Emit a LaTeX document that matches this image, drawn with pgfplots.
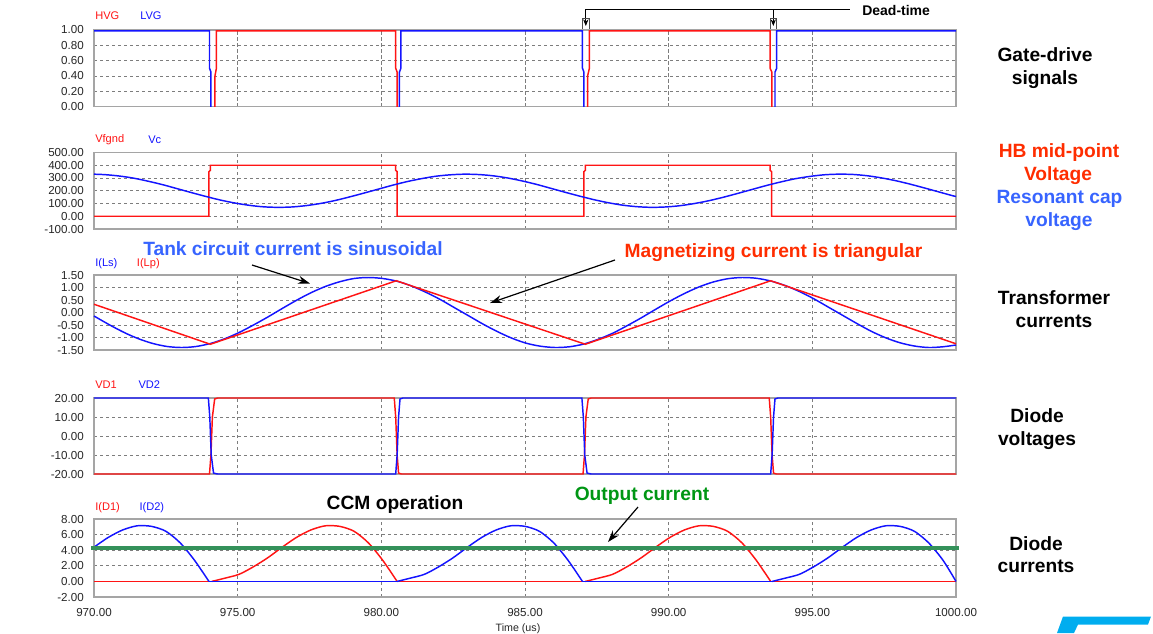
\documentclass[border=0pt]{standalone}
\usepackage{fontspec}
\setmainfont{Liberation Sans}
\usepackage{pgfplots}
\pgfplotsset{compat=1.18}
\usetikzlibrary{arrows.meta}

\definecolor{trred}{RGB}{255,20,20}
\definecolor{trblue}{RGB}{20,20,255}
\definecolor{outgreen}{RGB}{52,145,90}
\definecolor{lblred}{RGB}{255,45,0}
\definecolor{lblblue}{RGB}{55,100,255}
\definecolor{lblgreen}{RGB}{0,150,20}
\definecolor{framegray}{RGB}{165,165,165}
\definecolor{gridgray}{RGB}{125,125,125}

\pgfplotsset{
  panel/.style={
    scale only axis,
    width=646.5pt,
    xmin=970, xmax=1000,
    xtick={970,975,...,1000},
    grid=major,
    major grid style={gridgray, line width=0.6pt, dash pattern=on 2.5pt off 2pt},
    axis line style={framegray, line width=1.1pt},
    major tick length=0pt,
    tick style={draw=none},
    clip=false,
    ticklabel style={font=\fontsize{8.7}{10}\selectfont, text=black!85},
    yticklabel style={anchor=east, inner sep=0pt, xshift=-7.5pt},
    xticklabel style={anchor=north, inner sep=0pt, yshift=-8.5pt},
    /pgf/number format/fixed,
    /pgf/number format/fixed zerofill,
    /pgf/number format/precision=2,
    /pgf/number format/1000 sep={},
    /pgf/number format/assume math mode=true,
  },
  nox/.style={xticklabels={}},
  tr/.style={line width=1.1pt, #1},
  hump/.style={line width=1.1pt, #1, smooth, tension=0.45},
}

\begin{document}
\begin{tikzpicture}
\path[use as bounding box] (0pt,0pt) rectangle (864.75pt,-474.75pt);

% gate-drive signals (low level sits under the frame)
\begin{axis}[panel, nox, clip=true, at={(70.5pt,-79.875pt)}, anchor=south west, height=57.375pt,
  ymin=0, ymax=1, ytick={0,0.2,0.4,0.6,0.8,1}]
\addplot[tr=trred] coordinates {(970,-0.02)(974.21,-0.02)(974.21,0.4)(974.26,0.5)(974.26,0.99)(980.5,0.99)(980.5,0.5)(980.55,0.45)(980.55,-0.02)(987.18,-0.02)(987.18,0.4)(987.24,0.5)(987.24,0.99)(993.53,0.99)(993.53,0.5)(993.59,0.45)(993.59,-0.02)(1000,-0.02)};
\addplot[tr=trblue] coordinates {(970,0.99)(974.02,0.99)(974.02,0.5)(974.07,0.45)(974.07,-0.02)(980.63,-0.02)(980.63,0.45)(980.68,0.5)(980.68,0.99)(987.0,0.99)(987.0,0.5)(987.05,0.45)(987.05,-0.02)(993.7,-0.02)(993.7,0.45)(993.76,0.5)(993.76,0.99)(1000,0.99)};
\end{axis}

% mid-point and resonant cap voltage
\begin{axis}[panel, nox, at={(70.5pt,-171.75pt)}, anchor=south west, height=57.375pt,
  ymin=-100, ymax=500, ytick={-100,0,100,200,300,400,500}]
\addplot[tr=trred] coordinates {(970,0)(974.0,0)(974.0,350)(974.05,360)(974.05,400)(980.5,400)(980.5,360)(980.55,350)(980.55,0)(987.05,0)(987.05,350)(987.1,360)(987.1,400)(993.53,400)(993.53,360)(993.58,350)(993.58,0)(1000,0)};
\addplot[tr=trblue, smooth] coordinates {(970,330)(970.4,326)(970.9,315)(971.4,298)(971.9,274)(972.4,247)(972.9,216)(973.4,185)(973.9,155)(974.4,127)(974.9,104)(975.4,86)(975.9,74)(976.4,70)(976.9,73)(977.4,84)(977.9,101)(978.4,124)(978.9,152)(979.4,182)(979.9,213)(980.4,244)(980.9,272)(981.4,295)(981.9,314)(982.4,325)(982.9,330)(983.4,327)(983.9,317)(984.4,300)(984.9,277)(985.4,250)(985.9,219)(986.4,188)(986.9,158)(987.4,130)(987.9,106)(988.4,87)(988.9,75)(989.4,70)(989.9,73)(990.4,83)(990.9,100)(991.4,122)(991.9,149)(992.4,179)(992.9,210)(993.4,241)(993.9,269)(994.4,294)(994.9,312)(995.4,325)(995.9,330)(996.4,328)(996.9,318)(997.4,301)(997.9,279)(998.4,252)(998.9,222)(999.4,191)(999.9,160)(1000,155)};
\end{axis}

% transformer currents
\begin{axis}[panel, nox, at={(70.5pt,-262.5pt)}, anchor=south west, height=56.25pt,
  ymin=-1.5, ymax=1.5, ytick={-1.5,-1,-0.5,0,0.5,1,1.5}]
\addplot[tr=trblue, smooth] coordinates {(970,-0.14)(970.55,-0.50)(971.05,-0.80)(971.55,-1.05)(972.05,-1.24)(972.55,-1.36)(973.05,-1.40)(973.55,-1.36)(974.05,-1.24)(974.55,-1.05)(975.05,-0.80)(975.55,-0.50)(976.05,-0.18)(976.55,0.16)(977.05,0.49)(977.55,0.79)(978.05,1.04)(978.55,1.23)(979.05,1.36)(979.55,1.40)(980.05,1.36)(980.55,1.25)(981.05,1.06)(981.55,0.81)(982.05,0.52)(982.55,0.19)(983.05,-0.14)(983.55,-0.47)(984.05,-0.77)(984.55,-1.03)(985.05,-1.23)(985.55,-1.35)(986.05,-1.40)(986.55,-1.37)(987.05,-1.26)(987.55,-1.07)(988.05,-0.83)(988.55,-0.53)(989.05,-0.21)(989.55,0.13)(990.05,0.46)(990.55,0.76)(991.05,1.02)(991.55,1.22)(992.05,1.35)(992.55,1.40)(993.05,1.37)(993.55,1.26)(994.05,1.08)(994.55,0.84)(995.05,0.55)(995.55,0.22)(996.05,-0.11)(996.55,-0.44)(997.05,-0.75)(997.55,-1.01)(998.05,-1.21)(998.55,-1.34)(999.05,-1.40)(999.55,-1.37)(1000,-1.30)};
\addplot[tr=trred] coordinates {(970,0.33)(974.05,-1.27)(980.52,1.27)(987.1,-1.27)(993.55,1.27)(1000,-1.25)};
\end{axis}

% diode voltages
\begin{axis}[panel, nox, at={(70.5pt,-355.5pt)}, anchor=south west, height=57pt,
  ymin=-20, ymax=20, ytick={-20,-10,0,10,20}]
\addplot[tr=trred] coordinates {(970,-20)(974.02,-20)(974.07,-10)(974.12,10)(974.2,19.5)(974.3,20)(980.45,20)(980.5,10)(980.55,-10)(980.6,-19.5)(980.7,-20)(987.02,-20)(987.07,-10)(987.12,10)(987.2,19.5)(987.3,20)(993.5,20)(993.55,10)(993.6,-10)(993.65,-19.5)(993.75,-20)(1000,-20)};
\addplot[tr=trblue] coordinates {(970,20)(973.98,20)(974.03,10)(974.08,-10)(974.16,-19.5)(974.3,-20)(980.5,-20)(980.55,-10)(980.6,10)(980.65,19.5)(980.75,20)(986.98,20)(987.03,10)(987.08,-10)(987.16,-19.5)(987.3,-20)(993.55,-20)(993.6,-10)(993.65,10)(993.7,19.5)(993.8,20)(1000,20)};
\end{axis}

% diode currents
\begin{axis}[panel, at={(70.5pt,-447.75pt)}, anchor=south west, height=58.5pt,
  ymin=-2, ymax=8, ytick={-2,0,2,4,6,8}]
% I(D1)
\addplot[tr=trred] coordinates {(970,0)(974.1,0)};
\addplot[hump=trred] coordinates {(974.1,0)(974.55,0.41)(975.05,0.91)(975.55,1.88)(976.05,3.04)(976.55,4.39)(977.05,5.65)(977.55,6.6)(978.05,7.13)(978.55,7.06)(979.05,6.43)(979.55,4.94)(980.05,2.70)(980.55,0)};
\addplot[tr=trred] coordinates {(980.55,0)(987.1,0)};
\addplot[hump=trred] coordinates {(987.1,0)(987.55,0.41)(988.05,0.91)(988.55,1.88)(989.05,3.04)(989.55,4.39)(990.05,5.65)(990.55,6.6)(991.05,7.13)(991.55,7.06)(992.05,6.43)(992.55,4.94)(993.05,2.70)(993.55,0)};
\addplot[tr=trred] coordinates {(993.55,0)(1000,0)};
% I(D2)
\addplot[hump=trblue] coordinates {(970,4.39)(970.5,5.65)(971,6.6)(971.5,7.13)(972,7.06)(972.5,6.43)(973,4.94)(973.5,2.70)(974,0)};
\addplot[tr=trblue] coordinates {(974,0)(980.55,0)};
\addplot[hump=trblue] coordinates {(980.55,0)(981,0.41)(981.5,0.91)(982,1.88)(982.5,3.04)(983,4.39)(983.5,5.65)(984,6.6)(984.5,7.13)(985,7.06)(985.5,6.43)(986,4.94)(986.5,2.70)(987,0)};
\addplot[tr=trblue] coordinates {(987,0)(993.6,0)};
\addplot[hump=trblue] coordinates {(993.6,0)(994.05,0.41)(994.55,0.91)(995.05,1.88)(995.55,3.04)(996.05,4.39)(996.55,5.65)(997.05,6.6)(997.55,7.13)(998.05,7.06)(998.55,6.43)(999.05,4.94)(999.55,2.70)(1000,0)};
% output current
\addplot[line width=3pt, outgreen] coordinates {(969.9,4.3)(1000.1,4.3)};
\end{axis}

\begin{scope}[x=0.75pt, y=-0.75pt]
  % trace names
  \begin{scope}[every node/.style={anchor=west, inner sep=0pt, font=\fontsize{8.3}{10}\selectfont}]
    \node[text=trred]  at (95,16)    {HVG};
    \node[text=trblue] at (140,16)   {LVG};
    \node[text=trred]  at (95,140)   {Vfgnd};
    \node[text=trblue] at (148,140)  {Vc};
    \node[text=trblue] at (95,263.5) {I(Ls)};
    \node[text=trred]  at (136.7,263.5) {I(Lp)};
    \node[text=trred]  at (95,385)   {VD1};
    \node[text=trblue] at (138.3,385) {VD2};
    \node[text=trred]  at (95,508)   {I(D1)};
    \node[text=trblue] at (139.3,508) {I(D2)};
  \end{scope}

  % x axis title
  \node[anchor=base, inner sep=0pt, font=\fontsize{8}{10}\selectfont, text=black!85] at (518,631) {Time (us)};

  % right-hand descriptions
  \begin{scope}[every node/.style={anchor=base, inner sep=0pt, font=\fontsize{14.4}{16}\selectfont\bfseries}]
    \node at (1045,61.9) {Gate-drive};
    \node at (1045,84.9) {signals};
    \node[text=lblred] at (1059,157) {HB mid-point};
    \node[text=lblred] at (1058,180) {Voltage};
    \node[text=lblblue] at (1059.5,203.5) {Resonant cap};
    \node[text=lblblue] at (1059,226) {voltage};
    \node at (1054,304) {Transformer};
    \node at (1054,327) {currents};
    \node at (1037,422) {Diode};
    \node at (1037,445) {voltages};
    \node at (1036,550) {Diode};
    \node at (1036,572.5) {currents};
    % annotations
    \node[text=lblblue] at (293,255.5) {Tank circuit current is sinusoidal};
    \node[text=lblred] at (773.5,257.4) {Magnetizing current is triangular};
    \node at (395,509) {CCM operation};
    \node[text=lblgreen] at (642,500) {Output current};
  \end{scope}
  \draw[line width=0.9pt, -{Stealth[length=9pt,width=6pt]}] (252,265) -- (310,283.5);
  \draw[line width=0.9pt, -{Stealth[length=9pt,width=6pt]}] (615,260) -- (490,303);
  \draw[line width=0.9pt, -{Stealth[length=9pt,width=6pt]}] (638,507) -- (608,542);

  % dead-time marker
  \node[anchor=base west, inner sep=0pt, font=\fontsize{10.5}{12}\selectfont\bfseries] at (862,15.5) {Dead-time};
  \draw[line width=0.7pt] (585.8,9) -- (850,9);
  \draw[line width=0.7pt, -{Stealth[length=5pt,width=4pt]}] (585.8,9) -- (585.8,26);
  \draw[line width=0.7pt, -{Stealth[length=5pt,width=4pt]}] (773.3,9) -- (773.3,26);
  \draw[line width=0.5pt, black!70] (582.6,29) -- (582.6,18.3) -- (589.3,18.3) -- (589.3,29);
  \draw[line width=0.5pt, black!70] (769.9,29) -- (769.9,18.3) -- (776.7,18.3) -- (776.7,29);

  % cyan logo fragment
  \fill[cyan] (1063,616.5) -- (1151,616.5) -- (1148,624.5) -- (1078,624.5) -- (1074,633) -- (1057,633) -- cycle;
\end{scope}
\end{tikzpicture}
\end{document}
